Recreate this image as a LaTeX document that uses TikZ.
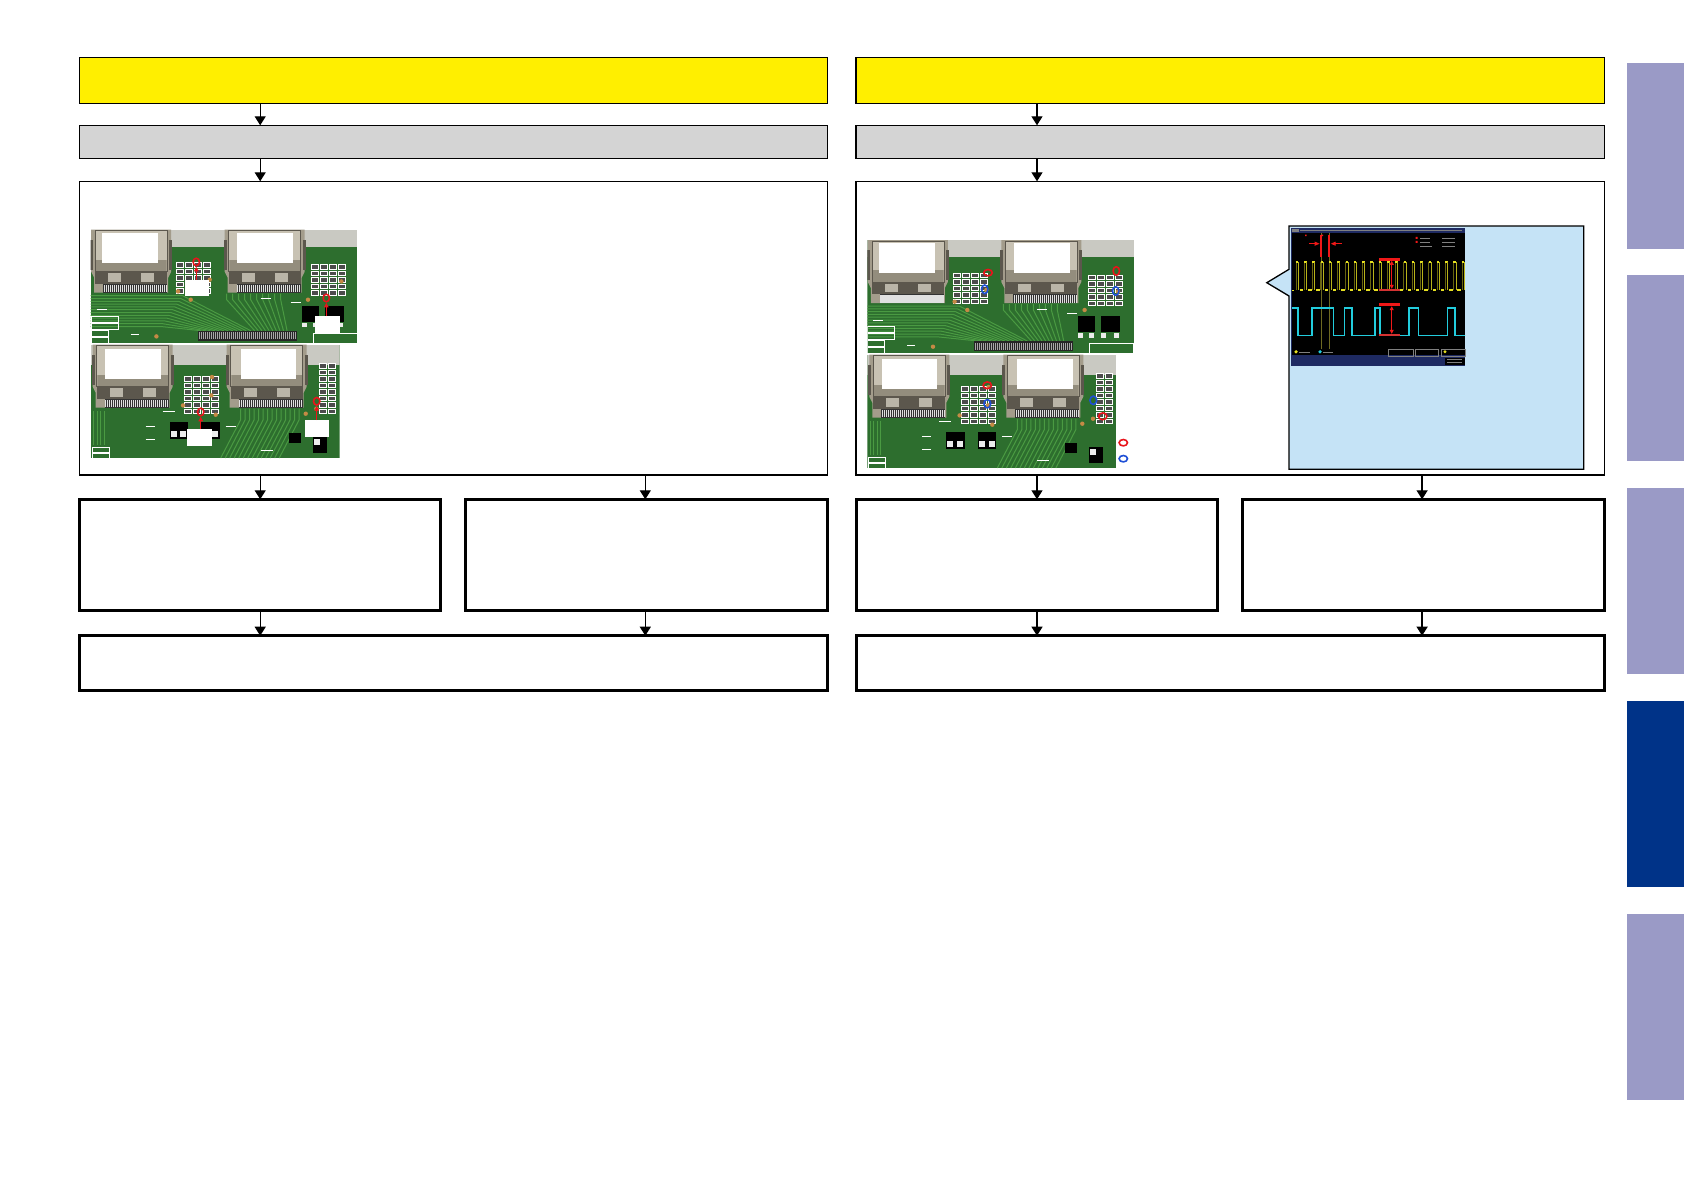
\documentclass[tikz,border=0pt]{standalone}
\usetikzlibrary{arrows.meta}
\definecolor{hdryellow}{HTML}{FFEF00}
\definecolor{hdrgray}{HTML}{D4D4D4}
\definecolor{calloutblue}{HTML}{C5E3F6}
\definecolor{tablight}{HTML}{9A9AC6}
\definecolor{tabdark}{HTML}{003388}
\definecolor{pcbgreen}{HTML}{2D6E2E}
\definecolor{pcbtrace}{HTML}{4A9A42}
\definecolor{pcbback}{HTML}{C9C9C2}
\definecolor{metal}{HTML}{A39C8B}
\definecolor{metallight}{HTML}{C8C2B3}
\definecolor{metaldark}{HTML}{5C574D}
\definecolor{via}{HTML}{C58A45}
\definecolor{mkred}{HTML}{E8141B}
\definecolor{mkblue}{HTML}{1E4FD6}
\definecolor{scopenavy}{HTML}{1E2A62}
\definecolor{scopeyellow}{HTML}{E6E020}
\definecolor{scopecyan}{HTML}{22CCDD}
\definecolor{scopered}{HTML}{F01818}

\tikzset{
  hdmi/.pic={
    \fill[metal] (1,0) -- (81,0) -- (81,42) -- (78,48) -- (78,63) -- (4,63) -- (4,48) -- (1,42) -- cycle;
    \fill[metallight] (5,1) rectangle (77,30);
    \fill[metal!90!black] (6,30) rectangle (76,42);
    \fill[metaldark] (5,42) rectangle (77,54);
    \fill[metal!75!white] (18,43.5) rectangle (31,52);
    \fill[metal!75!white] (51,43.5) rectangle (64,52);
    \fill[black!80] (13,54) rectangle (77,63);
    \foreach \i in {0,...,31} \fill[black!12] ({13.6+2*\i},55) rectangle +(1.1,7.5);
    \fill[metaldark] (0,10) rectangle (3,40);
    \fill[metaldark] (79,10) rectangle (82,40);
    \draw[metaldark, line width=0.6pt] (5,1) rectangle (77,42);
  },
  hdr/.style={draw=black, line width=1.2pt, inner sep=0pt, outer sep=0pt, anchor=north west},
  box/.style={draw=black, line width=1.2pt, fill=white, inner sep=0pt, outer sep=0pt, anchor=north west},
  thickbox/.style={draw=black, line width=3pt, fill=white, inner sep=0pt, outer sep=0pt, anchor=north west},
  tab/.style={inner sep=0pt, outer sep=0pt, anchor=north west, minimum width=57pt, minimum height=186pt},
  arr/.style={line width=1.3pt, -{Triangle[width=11pt,length=9pt]}},
  pinarr/.style={mkred, line width=1.2pt, -{Triangle[width=4.5pt,length=4.5pt]}},
  ringred/.style={draw=mkred, line width=1.6pt},
  ringblue/.style={draw=mkblue, line width=1.6pt},
}

\newcommand{\padgrid}[4]{%
  \foreach \c in {1,...,#3}{\foreach \r in {1,...,#4}{%
    \draw[white, line width=0.5pt, fill=black!70] ({#1+(\c-1)*9},{#2+(\r-1)*6.5}) rectangle +(7,4.5);}}}

\newcommand{\pcbA}[2]{%
\begin{scope}[shift={(#1,#2)}]
\begin{scope}
\clip (0,0) rectangle (266.6,113.3);
\fill[pcbgreen] (0,0) rectangle (266.6,113.3);
\fill[pcbback] (0,0) rectangle (266.6,17);
\foreach \i in {0,...,11} \draw[pcbtrace, line width=1pt] (0,{66+2.8*\i}) -- ({92-2*\i},{66+2.8*\i}) -- ({160-4.5*\i},101);
\foreach \i in {0,...,9} \draw[pcbtrace, line width=1pt] ({136+6*\i},64) -- ({136+6*\i},70) -- ({164+3.6*\i},101);
\fill[black!85] (107,101) rectangle (206,111);
\foreach \i in {0,...,48} \fill[black!35] ({108+2*\i},102.5) rectangle +(1,7);
\pic at (-0.5,0) {hdmi};
\pic at (133,0) {hdmi};
\fill[white] (11.3,3.3) rectangle (67.3,33.3);
\fill[white] (146.7,3.3) rectangle (202.3,33.3);
\padgrid{86}{33}{4}{5}
\padgrid{221}{35}{4}{5}
\foreach \p in {(87.3,61.7),(119,50),(250.7,51.7),(217.3,70),(65.7,106.7),(100,70)} \fill[via] \p circle (2.2);
\fill[black] (211,76) rectangle (228,92);
\fill[black] (234,76) rectangle (253,92);
\foreach \xx in {211,222,234,247} \fill[white!85!gray] (\xx,93) rectangle +(5,4.5);
\draw[white, line width=0.4pt] (0,86) rectangle (27,92.5) (0,93) rectangle (27,99.5) (0,100) rectangle (17,106.5) (0,107) rectangle (17,113);
\draw[white, line width=0.4pt] (222,103) rectangle (266,113);
\draw[white, line width=0.6pt] (6,80) -- (16,80) (40,105) -- (48,105) (170,69) -- (180,69) (200,73) -- (210,73);
\end{scope}
\end{scope}}

\newcommand{\pcbB}[2]{%
\begin{scope}[shift={(#1,#2)}]
\begin{scope}
\clip (0,0) rectangle (249,113.3);
\fill[pcbgreen] (0,0) rectangle (249,113.3);
\fill[pcbback] (0,0) rectangle (249,20);
\foreach \i in {0,...,3} \draw[pcbtrace, line width=0.8pt] ({3+3.5*\i},66) -- ({3+3.5*\i},100);
\foreach \i in {0,...,13} \draw[pcbtrace, line width=1pt] ({150+4.5*\i},64) -- ({150+4.5*\i},75) -- ({130+4.5*\i},113.3);
\pic at (1,0) {hdmi};
\pic at (135,0) {hdmi};
\fill[white] (14.7,4.7) rectangle (70,34);
\fill[white] (150,4.7) rectangle (205.7,34);
\padgrid{94}{32}{4}{6}
\padgrid{229}{19}{2}{8}
\foreach \p in {(92.3,60.7),(121.3,32.3),(120.7,50.7),(225.7,64),(215,69),(125,70)} \fill[via] \p circle (2.2);
\fill[black] (79,77) rectangle (97.3,94);
\fill[black] (110.7,77) rectangle (129,94);
\foreach \xx in {80,89.5,112,121.5} \fill[white!85!gray] (\xx,86) rectangle +(6,6);
\fill[black] (198,88) rectangle (210,98);
\fill[black] (222,92) rectangle (236,108);
\fill[white!85!gray] (223,94) rectangle (229,100);
\draw[white, line width=0.4pt] (1,102) rectangle (18,107.5) (1,108) rectangle (18,113);
\draw[white, line width=0.6pt] (55,82) -- (64,82) (55,95) -- (64,95) (135,82) -- (145,82) (170,106) -- (182,106) (72,67) -- (84,67);
\end{scope}
\end{scope}}

\begin{document}
\begin{tikzpicture}[x=1pt, y=-1pt, line join=miter]
\useasboundingbox (0,0) rectangle (1684,1191);

% ---------- left column ----------
\node[hdr, fill=hdryellow, minimum width=748.2pt, minimum height=46pt] (y1) at (79.2,57.3) {};
\node[hdr, fill=hdrgray, minimum width=748.2pt, minimum height=33pt] (g1) at (79.2,125.3) {};
\node[box, minimum width=748.2pt, minimum height=293.7pt] (b1) at (79.2,181.3) {};
\node[thickbox, minimum width=361.6pt, minimum height=111.4pt] (r1a) at (79.2,499.3) {};
\node[thickbox, minimum width=362.1pt, minimum height=111.4pt] (r1b) at (465.3,499.3) {};
\node[thickbox, minimum width=748.2pt, minimum height=55pt] (f1) at (79.2,635.7) {};

% ---------- right column ----------
\node[hdr, fill=hdryellow, minimum width=748.2pt, minimum height=46pt] (y2) at (856,57.3) {};
\node[hdr, fill=hdrgray, minimum width=748.2pt, minimum height=33pt] (g2) at (856,125.3) {};
\node[box, minimum width=748.2pt, minimum height=293.7pt] (b2) at (856,181.3) {};
\node[thickbox, minimum width=361.6pt, minimum height=111.4pt] (r2a) at (856,499.3) {};
\node[thickbox, minimum width=362.1pt, minimum height=111.4pt] (r2b) at (1242.1,499.3) {};
\node[thickbox, minimum width=748.2pt, minimum height=55pt] (f2) at (856,635.7) {};

% ---------- side tabs ----------
\node[tab, fill=tablight] (t1) at (1627,62.5) {};
\node[tab, fill=tablight] (t2) at (1627,275) {};
\node[tab, fill=tablight] (t3) at (1627,488) {};
\node[tab, fill=tabdark] (t4) at (1627,701) {};
\node[tab, fill=tablight] (t5) at (1627,914) {};

% ---------- photos left ----------
\pcbA{90.7}{229.7}
\pcbB{90.7}{344.7}
% markers photo 1
\fill[white] (184.7,279.7) rectangle (208.7,296.3);
\draw[pinarr] (196.3,279.7) -- (196.3,266.8);
\draw[ringred] (196.3,262) ellipse (3.2 and 3.8);
\fill[white] (314.7,316) rectangle (339.7,333);
\draw[pinarr] (326.3,316) -- (326.3,302.8);
\draw[ringred] (326.3,298) ellipse (3.2 and 3.8);
% markers photo 2
\fill[white] (187,429) rectangle (212,446);
\draw[pinarr] (200.7,429) -- (200.7,416.8);
\draw[ringred] (200.7,412) ellipse (3.2 and 3.8);
\fill[white] (305,420) rectangle (329,437);
\draw[pinarr] (316.7,420) -- (316.7,406.1);
\draw[ringred] (316.7,401.3) ellipse (3.2 and 3.8);

% ---------- photos right ----------
\pcbA{867.3}{240}
\pcbB{867.3}{354.7}
\draw[ringred] (988,272.7) ellipse (4.3 and 3.2);
\draw[ringblue] (984.7,289.3) ellipse (3.2 and 4.3);
\draw[ringred] (1116.3,271) ellipse (3.2 and 4.3);
\draw[ringblue] (1115.7,291) ellipse (3.2 and 4.3);
\draw[ringred] (987.3,385.3) ellipse (4.2 and 3.4);
\draw[ringblue] (987.3,403.7) ellipse (3.4 and 4.2);
\draw[ringblue] (1093.3,400.3) ellipse (3.4 and 4.2);
\draw[ringred] (1102.7,416.3) ellipse (4.2 and 3.4);
\draw[ringred] (1123.3,442.7) ellipse (4.2 and 3.2);
\draw[ringblue] (1123.3,458.7) ellipse (4.2 and 3.2);

% ---------- callout with oscilloscope ----------
\path[draw=black, line width=1.3pt, fill=calloutblue] (1289,226) -- (1583.7,226) -- (1583.7,469.3) -- (1289,469.3) -- (1289,296) -- (1266.8,282.7) -- (1289,269.3) -- cycle;
\fill[scopenavy] (1290.7,228) rectangle (1465,366);
\draw[gray, line width=0.6pt] (1300,230.3) -- (1462,230.3);
\fill[gray] (1292,228.5) rectangle (1299,232);
\fill[black] (1292,232.7) rectangle (1465,355);
\begin{scope}
\clip (1292,232.7) rectangle (1465,348.7);
\draw[olive!70!black, line width=0.5pt] (1321,232.7) -- (1321,348.7) (1329.3,232.7) -- (1329.3,348.7);
% yellow trace
\foreach \k in {0,...,20} {
  \draw[scopeyellow!45!black, line width=0.4pt] ({1295.7+8.3*\k},290.3) -- ({1295.7+8.3*\k},262);
  \draw[scopeyellow, line width=1.6pt] ({1295.7+8.3*\k},262) -- ({1298.2+8.3*\k},262);
  \draw[scopeyellow!80!black, line width=0.8pt] ({1298.2+8.3*\k},262) -- ({1298.2+8.3*\k},290.3);
  \draw[scopeyellow, line width=2pt] ({1299.7+8.3*\k},290.3) -- ({1303.2+8.3*\k},290.3);
}
\draw[scopeyellow, line width=1.6pt] (1292,290.3) -- (1294,290.3);
% cyan trace
\draw[scopecyan, line width=1.6pt] (1291,308) -- (1297.7,308) -- (1297.7,335.3) -- (1311.7,335.3) -- (1311.7,308) -- (1333.3,308) -- (1333.3,335.3) -- (1344.3,335.3) -- (1344.3,308) -- (1351.7,308) -- (1351.7,335.3) -- (1375,335.3) -- (1375,308) -- (1380,308) -- (1380,335.3) -- (1409,335.3) -- (1409,308) -- (1418.3,308) -- (1418.3,335.3) -- (1447.3,335.3) -- (1447.3,308) -- (1455,308) -- (1455,335.3) -- (1466,335.3);
% red time cursors
\draw[scopered, line width=2.2pt] (1321,235) -- (1321,257) (1329.3,235) -- (1329.3,257);
\draw[scopered, line width=0.9pt, -{Triangle[width=4pt,length=5pt]}] (1309,243.7) -- (1319.6,243.7);
\draw[scopered, line width=0.9pt, -{Triangle[width=4pt,length=5pt]}] (1342,243.7) -- (1330.7,243.7);
% red amplitude cursors
\draw[scopered, line width=2.5pt] (1379.3,259.3) -- (1400,259.3) (1379.3,304.7) -- (1400,304.7);
\draw[scopered!75!gray, line width=2pt] (1379.3,290.3) -- (1400,290.3) (1379.3,335.3) -- (1400,335.3);
\draw[scopered, line width=0.8pt, {Triangle[width=4pt,length=4pt]}-{Triangle[width=4pt,length=4pt]}] (1391.7,260.8) -- (1391.7,288.8);
\draw[scopered, line width=0.8pt, {Triangle[width=4pt,length=4pt]}-{Triangle[width=4pt,length=4pt]}] (1391.7,306.2) -- (1391.7,333.8);
% legend in screen
\fill[scopered] (1415.5,236.8) rectangle +(2,2) (1415.5,240.8) rectangle +(2,2);
\draw[gray, line width=0.6pt] (1420,237.8) -- (1430,237.8) (1442,237.8) -- (1455,237.8) (1420,241.8) -- (1430,241.8) (1442,241.8) -- (1455,241.8) (1420,245.8) -- (1432,245.8) (1442,245.8) -- (1455,245.8);
\fill[scopered] (1305,234.5) rectangle +(1.5,1.5) (1321.5,234.5) rectangle +(1.5,1.5);
\end{scope}
% bottom status bar
\fill[scopeyellow] (1296,351.8) circle (1.8);
\draw[gray, line width=0.6pt] (1299,351.8) -- (1310,351.8);
\fill[scopecyan] (1320,351.8) circle (1.8);
\draw[gray, line width=0.6pt] (1323,351.8) -- (1333,351.8);
\draw[gray, line width=0.4pt] (1388,348.7) rectangle (1413,356) (1415,348.7) rectangle (1438,356) (1441,348.7) rectangle (1465,356);
\fill[scopeyellow] (1445,351.8) circle (1.6);
\fill[black] (1445,357.5) rectangle (1464.5,365);
\draw[gray, line width=0.5pt] (1447,359.5) -- (1462,359.5) (1447,362.5) -- (1462,362.5);

% ---------- connectors ----------
\coordinate (ax1) at (260.2,0);
\coordinate (ax2) at (645.3,0);
\coordinate (ax3) at (1037,0);
\coordinate (ax4) at (1422.1,0);

\draw[arr] (y1.south -| ax1) -- (g1.north -| ax1);
\draw[arr] (g1.south -| ax1) -- (b1.north -| ax1);
\draw[arr] (b1.south -| ax1) -- (r1a.north -| ax1);
\draw[arr] (b1.south -| ax2) -- (r1b.north -| ax2);
\draw[arr] (r1a.south -| ax1) -- (f1.north -| ax1);
\draw[arr] (r1b.south -| ax2) -- (f1.north -| ax2);

\draw[arr] (y2.south -| ax3) -- (g2.north -| ax3);
\draw[arr] (g2.south -| ax3) -- (b2.north -| ax3);
\draw[arr] (b2.south -| ax3) -- (r2a.north -| ax3);
\draw[arr] (b2.south -| ax4) -- (r2b.north -| ax4);
\draw[arr] (r2a.south -| ax3) -- (f2.north -| ax3);
\draw[arr] (r2b.south -| ax4) -- (f2.north -| ax4);
\end{tikzpicture}
\end{document}
